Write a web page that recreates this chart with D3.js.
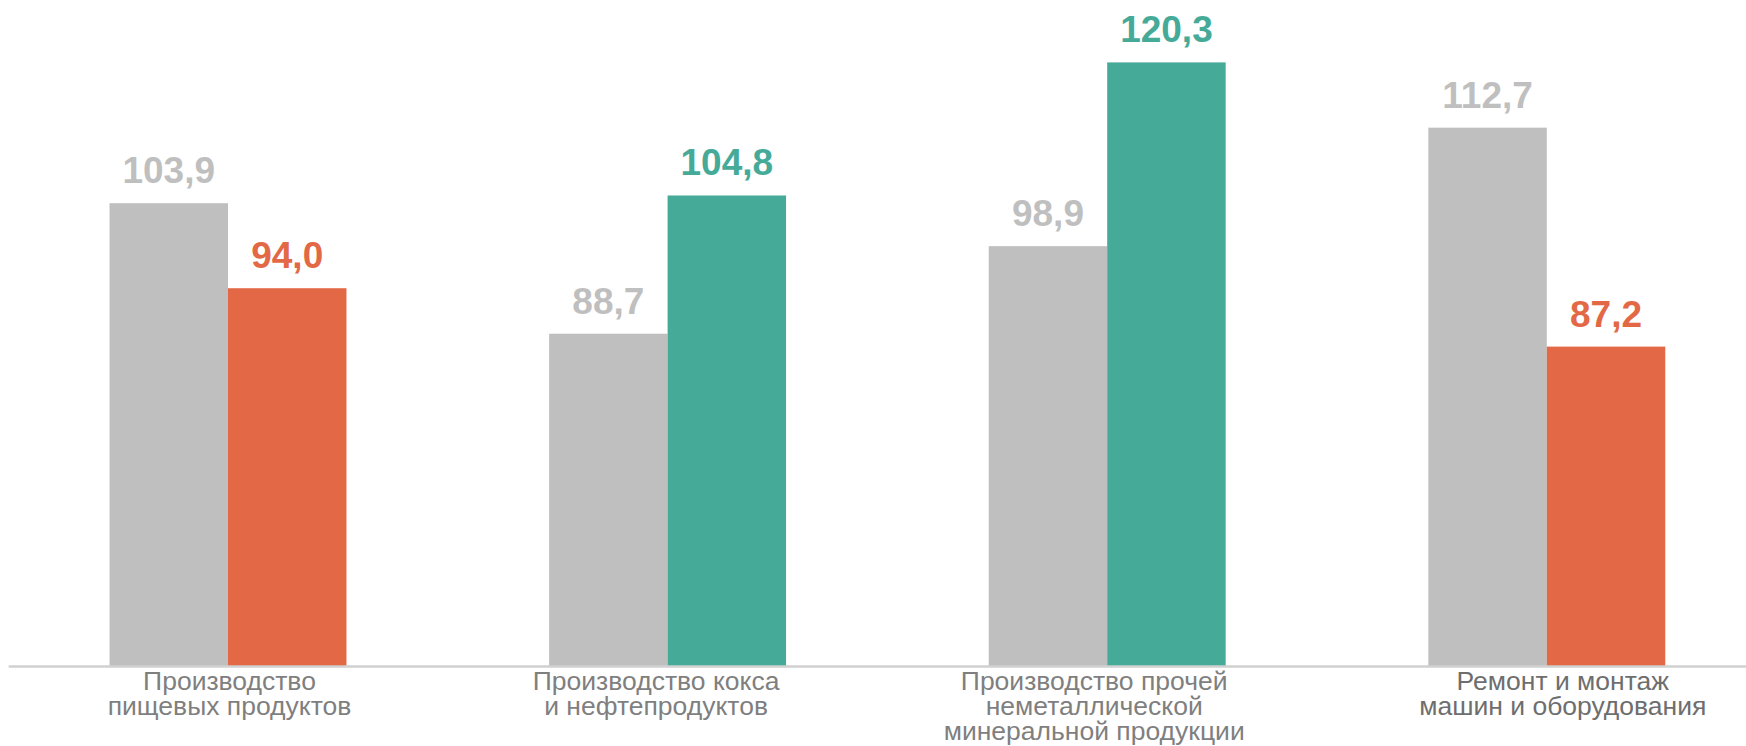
<!DOCTYPE html>
<html lang="ru">
<head>
<meta charset="UTF-8">
<title>Индексы производства</title>
<script src="https://d3js.org/d3.v7.min.js"></script>
<style>
  html, body { margin: 0; padding: 0; background: #fff; }
  svg { display: block; font-family: "Liberation Sans", Arial, sans-serif; }
  .value { font-weight: bold; font-size: 37px; }
  .cat { font-size: 26.5px; fill: #7f7f7f; }
  .axis path { stroke: #d0d0d0; stroke-width: 2.5px; }
</style>
</head>
<body>
<div id="chart"></div>
<script>
// data
var categories = [
  ["Производство", "пищевых продуктов"],
  ["Производство кокса", "и нефтепродуктов"],
  ["Производство прочей", "неметаллической", "минеральной продукции"],
  ["Ремонт и монтаж", "машин и оборудования"]
];
var prevValues = [103.9, 88.7, 98.9, 112.7];
var currValues = [94.0, 104.8, 120.3, 87.2];

var width = 1746, height = 746;
var baseY = 666;
var grey = "#bfbfbf", up = "#46aa98", down = "#e36946";

var svg = d3.select("#chart").append("svg")
    .attr("width", width)
    .attr("height", height);

var x = d3.scaleBand()
    .domain(d3.range(categories.length))
    .range([8.2, 1766.6])
    .paddingInner(0.461)
    .paddingOuter(0.2305);

var xs = d3.scaleBand()
    .domain(["prev", "curr"])
    .range([0, x.bandwidth()]);

// axis starts at 50, not 0
var y = d3.scaleLinear()
    .domain([50, 130])
    .range([baseY, baseY - 80 * 8.586]);

var rows = categories.map(function(c, i) {
  return {i: i, prev: prevValues[i], curr: currValues[i]};
});

var g = svg.selectAll("g.grp")
    .data(rows)
  .enter().append("g")
    .attr("class", "grp")
    .attr("transform", function(d) { return "translate(" + x(d.i) + ",0)"; });

function colorOf(d, key) {
  if (key == "prev") return grey;
  return d.curr >= d.prev ? up : down;
}

["prev", "curr"].forEach(function(key) {
  g.append("rect")
    .attr("x", xs(key))
    .attr("y", function(d) { return y(d[key]); })
    .attr("width", xs.bandwidth())
    .attr("height", function(d) { return y(50) - y(d[key]); })
    .attr("fill", function(d) { return colorOf(d, key); });

  g.append("text")
    .attr("class", "value")
    .attr("text-anchor", "middle")
    .attr("x", xs(key) + xs.bandwidth() / 2)
    .attr("y", function(d) { return y(d[key]) - 20; })
    .attr("fill", function(d) { return colorOf(d, key); })
    .text(function(d) { return d3.format(".1f")(d[key]).replace(".", ","); });
});

svg.append("g")
    .attr("class", "axis")
    .attr("transform", "translate(0," + baseY + ")")
    .call(d3.axisBottom(x).tickSize(0).tickFormat(""));

// category captions are not exactly centred in the source
var nudge = [1.5, -11.5, -13, 16];

var cat = svg.selectAll("text.cat")
    .data(categories)
  .enter().append("text")
    .attr("class", "cat")
    .attr("text-anchor", "middle")
    .style("fill", function(d, i) { return i == 3 ? "#6e6e6e" : null; });

cat.selectAll("tspan")
    .data(function(d, i) { return d.map(function(s) { return {s: s, i: i}; }); })
  .enter().append("tspan")
    .attr("x", function(d) { return x(d.i) + x.bandwidth() / 2 + nudge[d.i]; })
    .attr("y", function(d, j) { return 690 + j * 25; })
    .text(function(d) { return d.s; });
</script>
</body>
</html>
